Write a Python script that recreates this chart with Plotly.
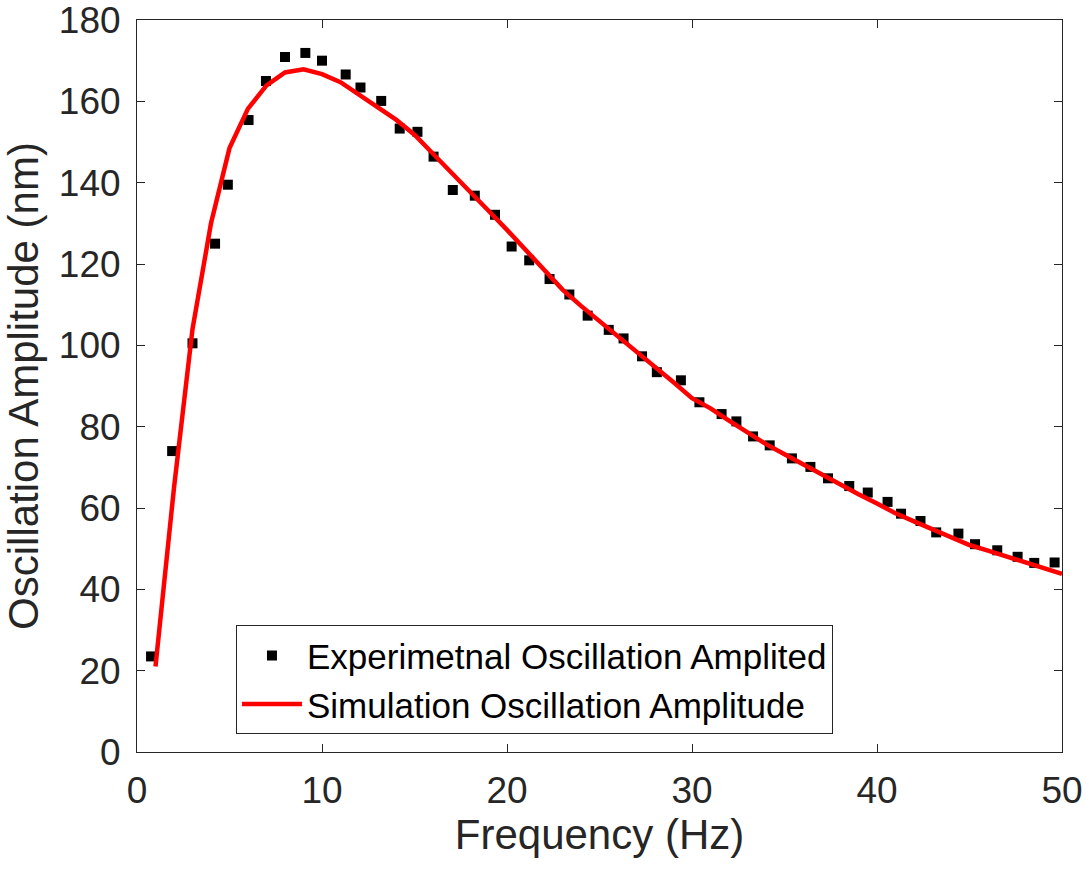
import plotly.graph_objects as go

freq_exp = [0.76, 1.9, 3.0, 4.22, 4.91, 6.03, 6.97, 8.0, 9.1, 10.0, 11.28, 12.08, 13.2, 14.2,
            15.16, 16.03, 17.07, 18.26, 19.35, 20.25, 21.2, 22.3, 23.37, 24.36, 25.5, 26.3,
            27.3, 28.1, 29.4, 30.4, 31.6, 32.4, 33.3, 34.2, 35.4, 36.4, 37.35, 38.5, 39.5,
            40.57, 41.3, 42.35, 43.2, 44.4, 45.3, 46.5, 47.6, 48.5, 49.6]
amp_exp = [23.5, 74.0, 100.5, 125.0, 139.5, 155.4, 165.0, 170.9, 171.9, 170.0, 166.6, 163.4,
           160.1, 153.3, 152.5, 146.4, 138.2, 136.8, 132.1, 124.3, 120.9, 116.3, 112.5, 107.3,
           103.8, 101.7, 97.3, 93.4, 91.4, 86.0, 83.1, 81.3, 77.6, 75.4, 72.2, 70.1, 67.3,
           65.4, 63.8, 61.5, 58.6, 56.8, 54.0, 53.7, 51.1, 49.6, 48.0, 46.5, 46.6]

# Simulation curve
freq_sim = list(range(1, 51))
amp_sim = [21, 65, 104, 130, 148.5, 158.2, 163.9, 167.1, 167.9, 166.7, 164.7, 161.8, 158.6,
           155.5, 151.8, 147.1, 142.3, 137.6, 133.1, 128.4, 123.5, 118.6, 113.7, 109.7, 106.0,
           102.3, 98.5, 94.7, 90.9, 87.0, 84.5, 81.5, 78.6, 75.7, 73.2, 70.7, 68.2, 65.8,
           63.4, 61.1, 58.7, 56.7, 54.8, 52.8, 50.9, 49.5, 48.1, 46.7, 45.2, 43.8]

x_ticks = [0, 10, 20, 30, 40, 50]
y_ticks = [0, 20, 40, 60, 80, 100, 120, 140, 160, 180]

FONT = "Liberation Sans, Arial, sans-serif"
AX = "#262626"

fig = go.Figure()
fig.add_trace(go.Scatter(
    x=freq_exp, y=amp_exp, mode="markers",
    name="Experimetnal Oscillation Amplited",
    marker=dict(symbol="square", size=10, color="black", line=dict(width=0)),
))
fig.add_trace(go.Scatter(
    x=freq_sim, y=amp_sim, mode="lines",
    name="Simulation Oscillation Amplitude",
    line=dict(color="red", width=4.5),
))

axis_common = dict(
    showline=True, linecolor=AX, linewidth=1, mirror="ticks",
    ticks="inside", ticklen=8, tickwidth=1, tickcolor=AX,
    showgrid=False, zeroline=False, automargin=False,
    ticklabeloverflow="allow",
    tickfont=dict(family=FONT, size=37, color=AX),
)

fig.update_layout(
    width=1089, height=869,
    paper_bgcolor="white", plot_bgcolor="white",
    margin=dict(l=137, r=27, t=20, b=117, autoexpand=False),
    font=dict(family=FONT, color=AX),
    xaxis=dict(range=[0, 50], tickvals=x_ticks, ticklabelstandoff=6,
               title=dict(text="Frequency (Hz)", font=dict(family=FONT, size=42, color=AX), standoff=5),
               **axis_common),
    yaxis=dict(range=[0, 180], tickvals=y_ticks, ticklabelstandoff=8,
               title=dict(text="Oscillation Amplitude (nm)", font=dict(family=FONT, size=42, color=AX), standoff=12),
               **axis_common),
    showlegend=True,
    legend=dict(
        x=0.107, y=0.173, xanchor="left", yanchor="top",
        bgcolor="white", bordercolor=AX, borderwidth=1,
        font=dict(family=FONT, size=35, color="black"),
        itemwidth=60, tracegroupgap=0,
    ),
)

# remove the default 8px page margin so the figure fills the window exactly
fig.write_html("out.html", config={"displayModeBar": False},
               post_script="document.body.style.margin='0px';")
